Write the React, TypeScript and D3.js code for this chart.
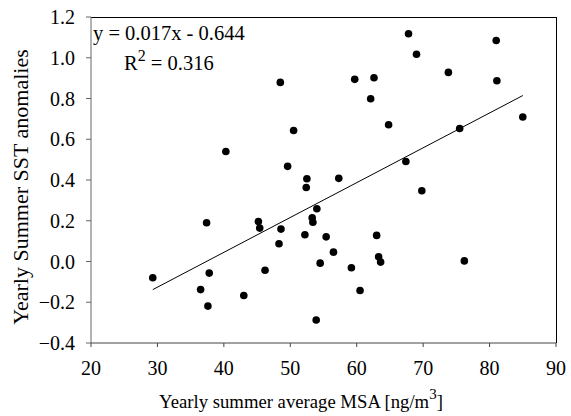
import React from "react";
import * as d3 from "d3";

const msa = [29.3, 36.5, 37.4, 37.8, 37.6, 40.3, 43.0, 45.2, 45.4, 46.2, 48.3, 48.6, 48.5, 49.6, 50.5, 52.2, 52.4, 52.5, 53.3, 53.4, 54.0, 53.9, 54.5, 55.4, 56.5, 57.3, 59.2, 59.7, 60.5, 62.1, 62.6, 63.0, 63.3, 63.6, 64.8, 67.4, 67.8, 69.0, 69.8, 73.8, 75.5, 76.2, 81.0, 81.1, 85.0];
const sst = [-0.080, -0.138, 0.190, -0.057, -0.219, 0.540, -0.167, 0.196, 0.164, -0.043, 0.087, 0.159, 0.879, 0.467, 0.643, 0.131, 0.363, 0.406, 0.215, 0.193, 0.259, -0.287, -0.008, 0.121, 0.046, 0.408, -0.031, 0.894, -0.142, 0.799, 0.902, 0.128, 0.023, -0.003, 0.671, 0.491, 1.118, 1.017, 0.347, 0.928, 0.653, 0.003, 1.085, 0.887, 0.709];

const xTicks = [20, 30, 40, 50, 60, 70, 80, 90];
const yTicks = [-0.4, -0.2, 0.0, 0.2, 0.4, 0.6, 0.8, 1.0, 1.2];
const fitSlope = 0.0171;
const fitIntercept = -0.639;
const equationText = "y = 0.017x - 0.644";
const r2Value = "0.316";

const W = 571, H = 416;
const L = 91, R = 556, T = 17, B = 343;
const font = "'Liberation Serif', 'Times New Roman', serif";

export default function App() {
  const x = d3.scaleLinear().domain([20, 90]).range([L, R]);
  const y = d3.scaleLinear().domain([-0.4, 1.2]).range([B, T]);
  const x0 = d3.min(msa)!, x1 = d3.max(msa)!;
  const line = d3.line<number>().x(d => x(d)).y(d => y(fitSlope * d + fitIntercept));
  return (
    <div style={{ position: "absolute", left: 0, top: 0 }}>
      <svg width={W} height={H} style={{ display: "block", background: "#fff" }} fontFamily={font}>
        <line x1={L} x2={R} y1={T + 0.5} y2={T + 0.5} stroke="#000" />
        <line x1={R + 0.5} x2={R + 0.5} y1={T} y2={B} stroke="#000" />
        <line x1={L} x2={L} y1={T} y2={B} stroke="#666" />
        <line x1={L} x2={R} y1={B} y2={B} stroke="#444" />
        {yTicks.map(t => (
          <g key={"y" + t}>
            <line x1={L - 5} x2={L} y1={y(t)} y2={y(t)} stroke="#666" />
            <text x={L - 16} y={y(t)} dy="0.35em" textAnchor="end" fontSize={20}>{d3.format(".1f")(t)}</text>
          </g>
        ))}
        {xTicks.map(t => (
          <g key={"x" + t}>
            <line x1={x(t)} x2={x(t)} y1={B} y2={B + 4} stroke="#444" />
            <text x={x(t)} y={375} textAnchor="middle" fontSize={20}>{t}</text>
          </g>
        ))}
        <path d={line([x0, x1]) || ""} fill="none" stroke="#000" strokeWidth={1} />
        {msa.map((v, i) => (
          <circle key={i} cx={x(v)} cy={y(sst[i])} r={3.8} fill="#000" />
        ))}
        <text x={93} y={40} fontSize={20.5}>{equationText}</text>
        <text x={124} y={70} fontSize={20.5}>R<tspan dy={-9} fontSize={16}>2</tspan><tspan dy={9}> = {r2Value}</tspan></text>
        <text x={301} y={408} textAnchor="middle" fontSize={18.7}>Yearly summer average MSA [ng/m<tspan dy={-9} fontSize={15}>3</tspan><tspan dy={9}>]</tspan></text>
        <text transform={`translate(28,${187}) rotate(-90)`} textAnchor="middle" fontSize={22}>Yearly Summer SST anomalies</text>
      </svg>
    </div>
  );
}
